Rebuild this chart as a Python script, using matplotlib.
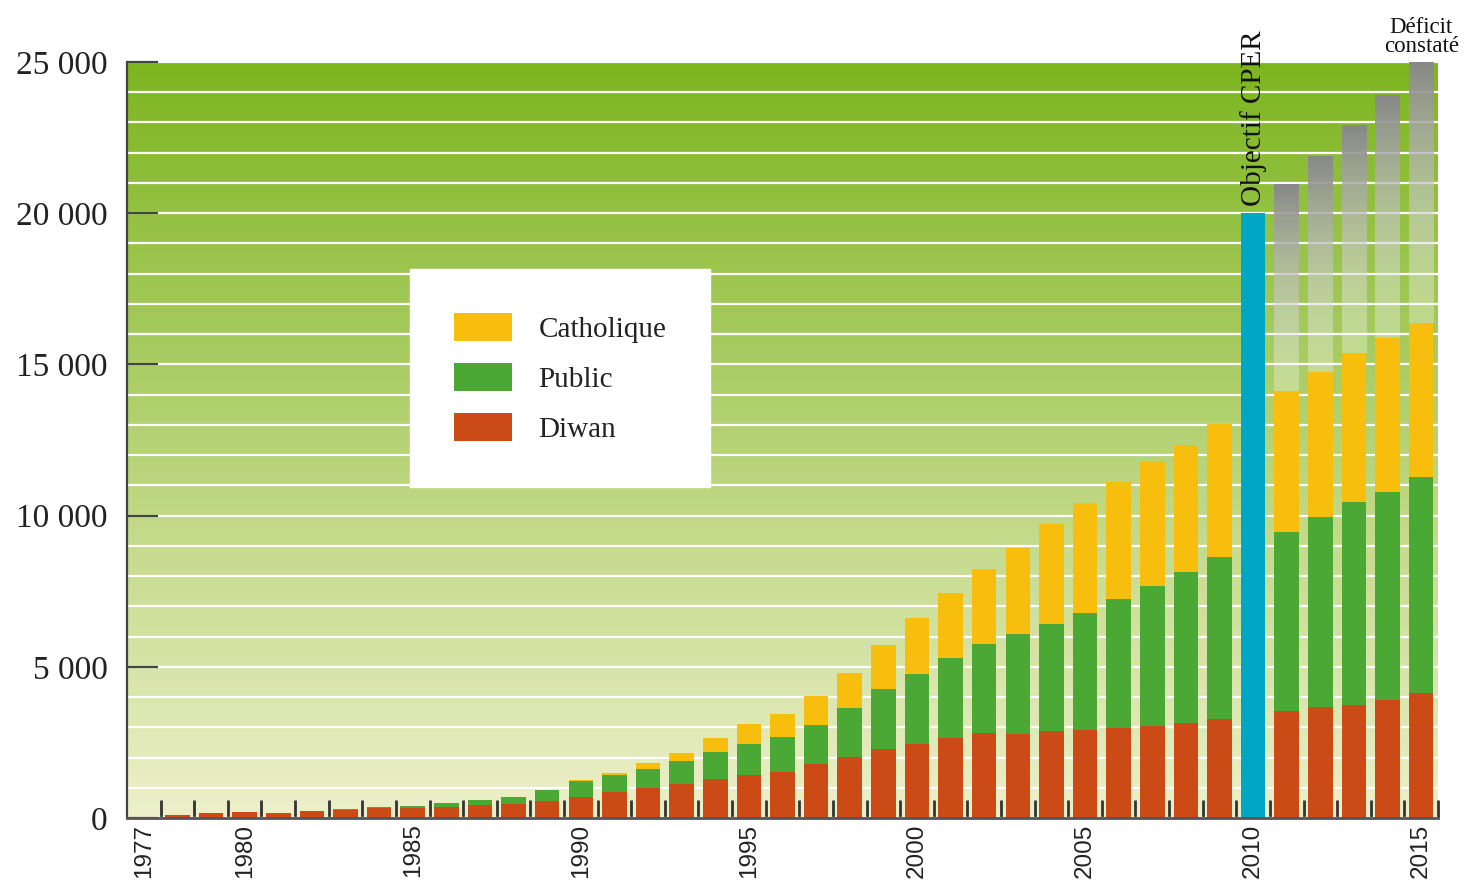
import matplotlib
matplotlib.use('Agg')
import matplotlib.pyplot as plt
from matplotlib.patches import Patch
import numpy as np

years = list(range(1977, 2016))
diwan = [20, 100, 155, 200, 175, 220, 250, 320, 320, 365, 420, 463, 562, 694, 871, 981, 1135, 1278, 1422, 1532,
         1797, 2028, 2293, 2458, 2657, 2811, 2789, 2877, 2921, 2965, 3042, 3142, 3274, 0, 3538, 3671, 3737, 3892, 4123]
public = [0, 0, 0, 0, 0, 0, 40, 45, 80, 135, 165, 241, 364, 519, 540, 639, 761, 893, 1036, 1158,
          1278, 1620, 1963, 2304, 2645, 2954, 3285, 3550, 3858, 4277, 4641, 4993, 5357, 0, 5920, 6283, 6713, 6898, 7153]
catholique = [0, 0, 0, 0, 0, 0, 0, 0, 0, 0, 0, 0, 0, 33, 88, 199, 253, 463, 639, 749,
              970, 1147, 1465, 1842, 2128, 2458, 2844, 3295, 3649, 3879, 4123, 4211, 4398, 0, 4652, 4785, 4917, 5083, 5104]
objectif_year = 2010
objectif_value = 20000
deficit_years = [2011, 2012, 2013, 2014, 2015]
deficit_totals = [20933, 21858, 22884, 23876, 25000]

ytick_vals = [0, 5000, 10000, 15000, 20000, 25000]
ytick_labels = ['0', '5 000', '10 000', '15 000', '20 000', '25 000']
xlabel_years = [1977, 1980, 1985, 1990, 1995, 2000, 2005, 2010, 2015]

c_diwan = '#cc4a15'
c_public = '#4ba834'
c_cath = '#f7be0e'
c_obj = '#00a6c4'
serif = 'Liberation Serif'
width = 0.73

fig = plt.figure(figsize=(14.64, 8.8), dpi=100)
ax = fig.add_axes([127/1464, 1-818/880, (1438-127)/1464, 756/880])
ax.set_axisbelow(True)

# background gradient
top = np.array([125, 181, 31])/255
bot = np.array([237, 240, 202])/255
t = np.linspace(0, 1, 256)[:, None]
grad = (bot*(1-t) + top*t)[:, None, :]
ax.imshow(grad, extent=[1976.5, 2015.5, 0, 25000], origin='lower', aspect='auto', zorder=0)

x = np.array(years)
d = np.array(diwan)
p = np.array(public)
c = np.array(catholique)
mask = x != objectif_year
ax.bar(x[mask], d[mask], width, color=c_diwan, zorder=2)
ax.bar(x[mask], p[mask], width, bottom=d[mask], color=c_public, zorder=2)
ax.bar(x[mask], c[mask], width, bottom=(d+p)[mask], color=c_cath, zorder=2)
ax.bar([objectif_year], [objectif_value], width, color=c_obj, zorder=2)

# deficit bars, grey fading downwards
tt = np.linspace(0, 1, 200)[:, None]
rgb = np.array([1, 1, 1])*(1-tt) + np.array([0.535, 0.535, 0.535])*tt
alpha = 0.3*(1-tt) + 1.0*tt
rgba = np.concatenate([rgb, alpha], axis=1)[:, None, :]
tops = dict(zip(years, d+p+c))
for yr, tot in zip(deficit_years, deficit_totals):
    ax.imshow(rgba, extent=[yr-width/2, yr+width/2, tops[yr], tot], origin='lower', aspect='auto', zorder=2)

ax.set_xlim(1976.5, 2015.5)
ax.set_ylim(0, 25000)

ax.set_yticks(ytick_vals, labels=ytick_labels)
ax.set_yticks(range(0, 25001, 1000), minor=True)
ax.tick_params(axis='y', which='major', direction='in', length=22, width=1.6, color='#444444', pad=14,
               labelsize=24, labelcolor='#222222')
ax.tick_params(axis='y', which='minor', length=0)
for lb in ax.get_yticklabels():
    lb.set_family(serif)
ax.grid(axis='y', which='both', color='white', lw=1.6)

ax.set_xticks([y+0.5 for y in years], labels=['']*len(years))
ax.set_xticks(xlabel_years, labels=[str(y) for y in xlabel_years], minor=True)
ax.tick_params(axis='x', which='major', direction='in', length=13, width=2, color='#333333')
ax.tick_params(axis='x', which='minor', length=0, pad=4, labelsize=17.5, labelrotation=90, labelcolor='#222222')
for lb in ax.get_xticklabels(minor=True):
    lb.set_family('Liberation Sans')

for s in ['top', 'right']:
    ax.spines[s].set_visible(False)
ax.spines['left'].set_color('#444444')
ax.spines['left'].set_linewidth(1.6)
ax.spines['bottom'].set_color('#555555')
ax.spines['bottom'].set_linewidth(2)

ax.text(objectif_year, 20250, 'Objectif CPER', rotation=90, ha='center', va='bottom',
        fontsize=21, family=serif, color='#111111', clip_on=False)
ax.text(deficit_years[-1], 25180, 'Déficit\nconstaté', ha='center', va='bottom', fontsize=16.5,
        family=serif, color='#111111', linespacing=0.85, clip_on=False)

handles = [Patch(facecolor=c_cath, label='Catholique'),
           Patch(facecolor=c_public, label='Public'),
           Patch(facecolor=c_diwan, label='Diwan')]
leg = ax.legend(handles=handles, loc='upper left', bbox_to_anchor=(410/1464, 1-269/880),
                bbox_transform=fig.transFigure, fancybox=False, framealpha=1, facecolor='white',
                edgecolor='white', borderpad=1.5, handlelength=2.0, handleheight=1.1,
                handletextpad=0.9, labelspacing=0.7, borderaxespad=0,
                prop={'family': serif, 'size': 21})
for txt in leg.get_texts():
    txt.set_color('#222222')

fig.savefig('out.png', dpi=100)
